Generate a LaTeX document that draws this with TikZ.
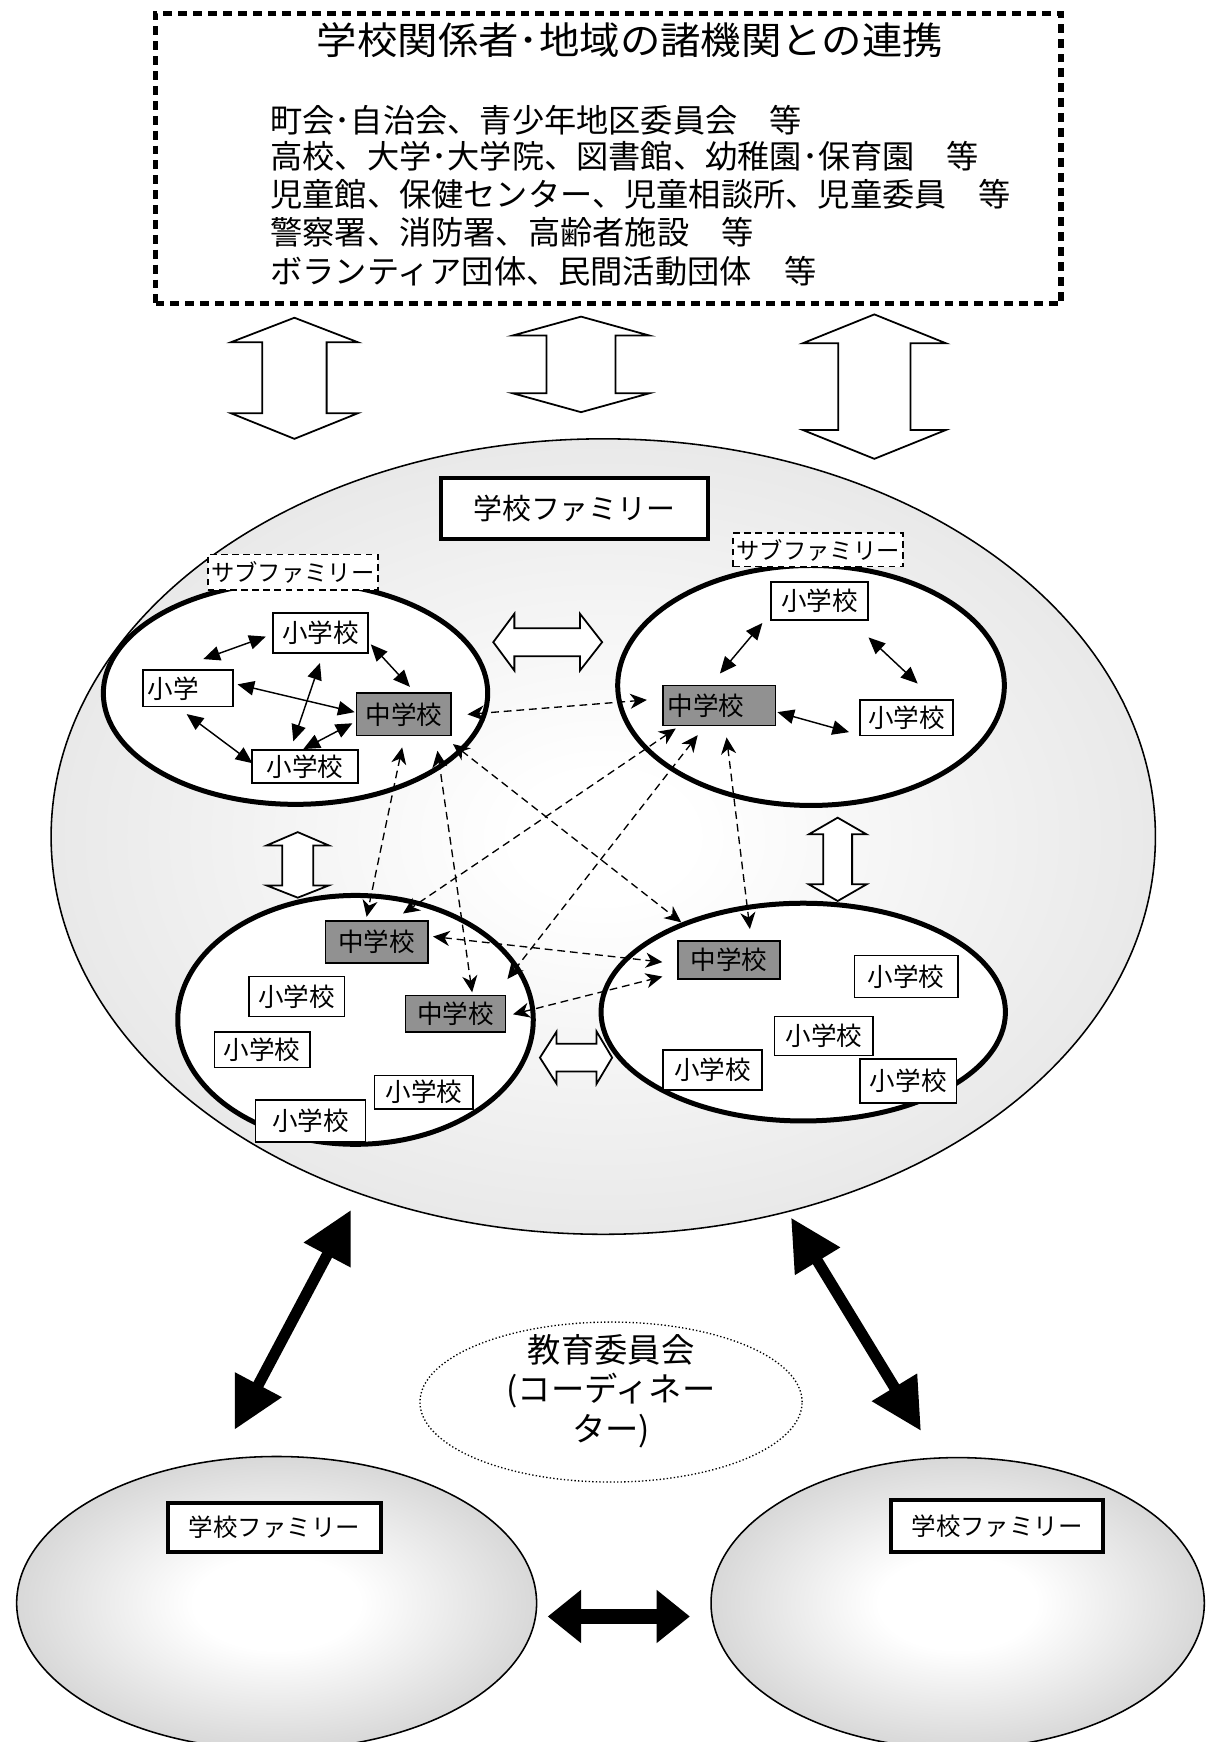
\documentclass[tikz,border=0pt]{standalone}
\usepackage{fontspec}
\usepackage{graphicx}
\usetikzlibrary{shapes.geometric, arrows.meta, calc}
\newfontfamily\jp{Noto Sans CJK JP}
\pgfdeclareradialshading{bigshade}{\pgfpoint{0bp}{0bp}}{color(0bp)=(white); color(4bp)=(white); color(50bp)=(gray!38)}
\pgfdeclareradialshading{famshade}{\pgfpoint{0bp}{0bp}}{color(0bp)=(white); color(8bp)=(white); color(38bp)=(gray!54); color(50bp)=(gray!57)}
% vertical block double arrow: cx, ytop, yhead1, yhead2, ybottom, head half width, shaft half width
\newcommand{\vblk}[7]{%
  \draw[blockarrow] (#1,#2) -- (#1+#6,#3) -- (#1+#7,#3) -- (#1+#7,#4) -- (#1+#6,#4) -- (#1,#5)
    -- (#1-#6,#4) -- (#1-#7,#4) -- (#1-#7,#3) -- (#1-#6,#3) -- cycle;}
% horizontal block double arrow: cy, xleft, xhead1, xhead2, xright, head half height, shaft half height
\newcommand{\hblk}[7]{%
  \draw[blockarrow] (#2,#1) -- (#3,#1-#6) -- (#3,#1-#7) -- (#4,#1-#7) -- (#4,#1-#6) -- (#5,#1)
    -- (#4,#1+#6) -- (#4,#1+#7) -- (#3,#1+#7) -- (#3,#1+#6) -- cycle;}
\begin{document}
\begin{tikzpicture}[x=0.5pt,y=-0.5pt,
  topbox/.style={draw, line width=2.4pt, dash pattern=on 4pt off 2.7pt, inner sep=0pt},
  listtxt/.style={anchor=west, inner sep=0pt, font=\jp\fontsize{14.5}{14.5}\selectfont},
  blockarrow/.style={draw, fill=white, line width=0.8pt, line join=miter},
  bigell/.style={ellipse, draw, line width=0.7pt, inner sep=0pt, shade, shading=bigshade},
  famell/.style={ellipse, draw, line width=0.7pt, inner sep=0pt, shade, shading=famshade},
  subell/.style={ellipse, draw, line width=2.25pt, fill=white, inner sep=0pt},
  fambox/.style={draw, fill=white, line width=1.9pt, inner sep=0pt, font=\jp\fontsize{13}{13}\selectfont},
  fambox2/.style={draw, fill=white, line width=1.7pt, inner sep=0pt, font=\jp\fontsize{11}{11}\selectfont},
  subfam/.style={draw, fill=white, line width=0.75pt, dash pattern=on 3pt off 2pt, inner sep=0pt, font=\jp\fontsize{10.5}{10.5}\selectfont},
  sbox/.style={draw, fill=white, line width=0.75pt, inner sep=0pt, font=\jp\fontsize{11.5}{12}\selectfont},
  mbox/.style={sbox, fill=black!43},
  sarrow/.style={line width=0.65pt, {Triangle[length=7.5pt,width=6.5pt]}-{Triangle[length=7.5pt,width=6.5pt]}},
  darrow/.style={line width=0.6pt, dash pattern=on 3.5pt off 2.2pt, {Stealth[length=7.5pt,width=6.8pt,inset=2.3pt]}-{Stealth[length=7.5pt,width=6.8pt,inset=2.3pt]}},
  bigarrow/.style={line width=5pt, {Triangle[length=23pt,width=22.5pt]}-{Triangle[length=23pt,width=22.5pt]}},
  bigarrowh/.style={line width=6.5pt, {Triangle[length=15pt,width=23pt]}-{Triangle[length=15pt,width=23pt]}},
  coordell/.style={ellipse, draw, line width=0.6pt, densely dotted, inner sep=0pt}
]
\useasboundingbox (0,0) rectangle (1087,1568);

% ---------- top box ----------
\node[topbox, minimum width=407.5pt, minimum height=130.5pt] (top) at (547.5,142.5) {};
\node[inner sep=0pt, font=\jp\fontsize{17}{17}\selectfont] (title) at (567,36) {\scalebox{1.07}[1]{学校関係者･地域の諸機関との連携}};
\node[listtxt] (l1) at (243,108) {町会･自治会、青少年地区委員会　等};
\node[listtxt] (l2) at (243,141) {高校、大学･大学院、図書館、幼稚園･保育園　等};
\node[listtxt] (l3) at (243,175) {児童館、保健センター、児童相談所、児童委員　等};
\node[listtxt] (l4) at (243,209) {警察署、消防署、高齢者施設　等};
\node[listtxt] (l5) at (243,244) {ボランティア団体、民間活動団体　等};

% ---------- big family ellipse ----------
\node[bigell, minimum width=497pt, minimum height=358pt] (fam) at (543,753) {};

% block arrows top <-> family
\vblk{265}{286}{308}{372}{395}{57}{29}
\vblk{523}{285}{302}{354}{371}{61.5}{31}
\vblk{787}{283}{309}{387}{413}{64.5}{32.5}

\node[fambox, minimum width=120pt, minimum height=27.5pt] (famlabel) at (517,457.5) {学校ファミリー};

% block arrows between sub families
\hblk{578}{444}{463}{522}{542}{25.6}{12.6}
\vblk{268}{749}{761}{797}{808}{28}{14}
\vblk{754}{736}{751}{796}{811}{26}{13}
\hblk{952}{486}{501}{537}{551}{23.5}{12.5}

% sub family ellipses
\node[subell, minimum width=173pt, minimum height=100pt] (sfTL) at (266,624) {};
\node[subell, minimum width=174pt, minimum height=108pt] (sfTR) at (730,617) {};
\node[subell, minimum width=160pt, minimum height=112pt] (sfBL) at (320,918) {};
\node[subell, minimum width=182pt, minimum height=98pt] (sfBR) at (723,911) {};

\node[subfam, minimum width=76.5pt, minimum height=16pt] (lblTL) at (263.5,515) {サブファミリー};
\node[subfam, minimum width=76.5pt, minimum height=15pt] (lblTR) at (736.5,495) {サブファミリー};

% top-left family
\node[sbox, minimum width=42.5pt, minimum height=18pt] (s1) at (288.5,570) {小学校};
\node[sbox, minimum height=16.5pt, text width=36.5pt, inner xsep=2pt, align=left] (s2) at (169.5,619.5) {小学};
\node[mbox, minimum width=42.5pt, minimum height=19pt] (m1) at (363.5,643) {中学校};
\node[sbox, minimum width=47.5pt, minimum height=15pt] (s3) at (274.5,690) {小学校};

% top-right family
\node[sbox, minimum width=43.5pt, minimum height=17pt] (s4) at (737.5,541) {小学校};
\node[mbox, minimum height=18pt, text width=46.5pt, inner xsep=2pt, align=left] (m2) at (647.5,635) {中学校};
\node[sbox, minimum width=42pt, minimum height=16pt] (s5) at (816,646) {小学校};

% bottom-left family
\node[mbox, minimum width=46pt, minimum height=19pt] (m3) at (339,848) {中学校};
\node[sbox, minimum width=43pt, minimum height=18pt] (s6) at (267,897) {小学校};
\node[mbox, minimum width=45pt, minimum height=16.5pt] (m4) at (410,912.5) {中学校};
\node[sbox, minimum width=43pt, minimum height=16pt] (s7) at (236,945) {小学校};
\node[sbox, minimum width=44.5pt, minimum height=15pt] (s8) at (381.5,983) {小学校};
\node[sbox, minimum width=49.5pt, minimum height=19pt] (s9) at (279.5,1009) {小学校};

% bottom-right family
\node[mbox, minimum width=46pt, minimum height=17pt] (m5) at (656,864) {中学校};
\node[sbox, minimum width=46.5pt, minimum height=19pt] (s10) at (815.5,879) {小学校};
\node[sbox, minimum width=44.5pt, minimum height=17.5pt] (s11) at (741.5,932.5) {小学校};
\node[sbox, minimum width=44.5pt, minimum height=18pt] (s12) at (641.5,963) {小学校};
\node[sbox, minimum width=43.5pt, minimum height=20pt] (s13) at (817.5,973) {小学校};

% solid arrows inside families
\draw[sarrow] ($(s2.north)+(13.5,-9)$) -- ($(s1.west)+(-6,3)$);
\draw[sarrow] ($(s1.east)+(2,10)$) -- ($(m1.north)+(5.5,-5)$);
\draw[sarrow] ($(s2.east)+(3,-3.5)$) -- ($(m1.west)+(-1,-2)$);
\draw[sarrow] ($(s1.south)+(-0.5,8)$) -- ($(s3.north)+(-10.5,-7)$);
\draw[sarrow] ($(s3.north)+(-1.5,0)$) -- ($(m1.west)+(-3,8)$);
\draw[sarrow] ($(s2.south)+(-1.5,6)$) -- ($(s3.west)+(1,-3)$);

\draw[sarrow] ($(s4.south west)+(-7,2)$) -- ($(m2.north)+(0.5,-10)$);
\draw[sarrow] ($(s4.south east)+(0,15)$) -- ($(s5.north)+(10,-14)$);
\draw[sarrow] ($(m2.east)+(1,6)$) -- ($(s5.west)+(-9,13)$);

% dashed arrows between junior high schools
\draw[darrow] ($(m1.east)+(14,0)$) -- ($(m2.west)+(-14,-5)$);
\draw[darrow] ($(m1.south east)+(1,7)$) -- ($(m5.north west)+(4,-16)$);
\draw[darrow] ($(m1.south)+(-1.5,10)$) -- ($(m3.north)+(-9,-3)$);
\draw[darrow] ($(m1.south east)+(-13,13)$) -- ($(m4.north)+(15,-2)$);
\draw[darrow] ($(m2.south west)+(12,2)$) -- ($(m3.north east)+(-23,-6)$);
\draw[darrow] ($(m2.south)+(-19.5,8)$) -- ($(m4.north east)+(1,-14)$);
\draw[darrow] ($(m2.south)+(6.5,10)$) -- ($(m5.north)+(19,-10)$);
\draw[darrow] ($(m3.east)+(4,-5)$) -- ($(m5.west)+(-13,2)$);
\draw[darrow] ($(m4.east)+(6,0.5)$) -- ($(m5.west)+(-13,15)$);

% ---------- lower part ----------
\node[coordell, minimum width=172pt, minimum height=72pt] (coord) at (550,1262) {};
\node[inner sep=0pt, align=center, font=\jp\fontsize{15}{17.75}\selectfont] (coordtxt) at (550,1252) {教育委員会\\(コーディネー\\ター)};

\node[famell, minimum width=234pt, minimum height=132pt] (famL) at (249,1443) {};
\node[famell, minimum width=222pt, minimum height=131pt] (famR) at (862,1443) {};
\node[fambox2, minimum width=96pt, minimum height=22pt] (flabL) at (247,1375) {学校ファミリー};
\node[fambox2, minimum width=95.5pt, minimum height=23.5pt] (flabR) at (897.5,1373.5) {学校ファミリー};

\coordinate (ba1a) at (316,1089);
\coordinate (ba1b) at (211,1287);
\coordinate (ba2a) at (712,1096);
\coordinate (ba2b) at (829,1288);
\coordinate (ba3a) at (493,1455);
\coordinate (ba3b) at (621,1455);
\draw[bigarrow] (ba1a) -- (ba1b);
\draw[bigarrow] (ba2a) -- (ba2b);
\draw[bigarrowh] (ba3a) -- (ba3b);
\end{tikzpicture}
\end{document}
